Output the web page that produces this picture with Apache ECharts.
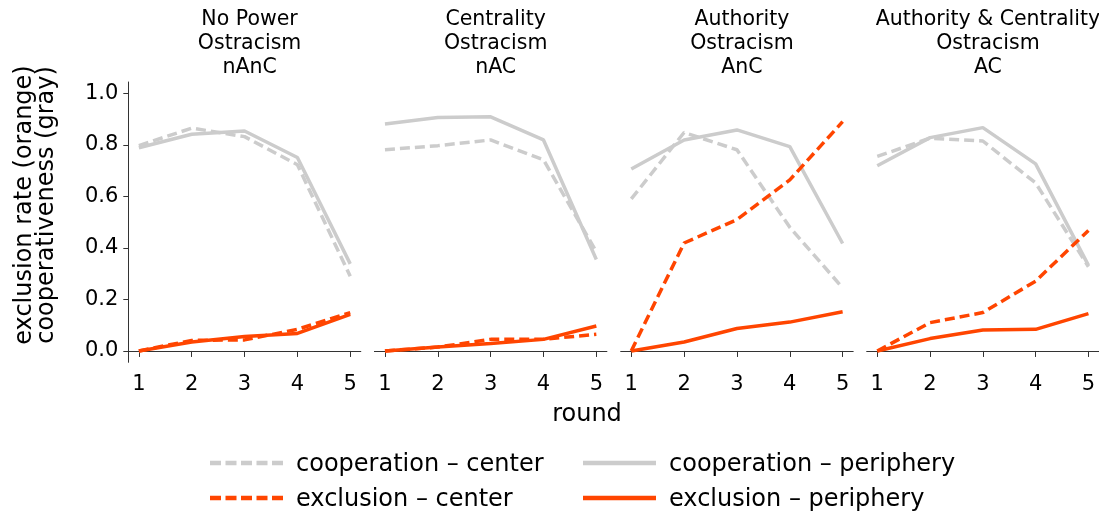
<!DOCTYPE html>
<html>
<head>
<meta charset="utf-8">
<script src="https://cdn.jsdelivr.net/npm/echarts@6/dist/echarts.min.js"></script>
<style>
html,body{margin:0;padding:0;background:#fff;}
#chart{width:1099px;height:518px;}
</style>
</head>
<body>
<div id="chart"></div>
<script>
// ---- data ----
const rounds = [1, 2, 3, 4, 5];
const yTicks = [0, 0.2, 0.4, 0.6, 0.8, 1.0];
const panelTitles = [
  'No Power\nOstracism\nnAnC',
  'Centrality\nOstracism\nnAC',
  'Authority\nOstracism\nAnC',
  'Authority & Centrality\nOstracism\nAC'
];
const seriesNames = ['cooperation – center', 'cooperation – periphery', 'exclusion – center', 'exclusion – periphery'];

// panel nAnC
const coopCenterNAnC   = [0.797, 0.865, 0.832, 0.723, 0.290];
const coopPeriphNAnC   = [0.789, 0.841, 0.854, 0.751, 0.338];
const exclCenterNAnC   = [0.000, 0.041, 0.043, 0.084, 0.149];
const exclPeriphNAnC   = [0.000, 0.035, 0.056, 0.068, 0.142];
// panel nAC
const coopCenterNAC    = [0.781, 0.797, 0.819, 0.742, 0.385];
const coopPeriphNAC    = [0.881, 0.906, 0.909, 0.819, 0.355];
const exclCenterNAC    = [0.000, 0.015, 0.045, 0.045, 0.065];
const exclPeriphNAC    = [0.000, 0.015, 0.029, 0.045, 0.097];
// panel AnC
const coopCenterAnC    = [0.590, 0.848, 0.781, 0.480, 0.245];
const coopPeriphAnC    = [0.706, 0.819, 0.858, 0.793, 0.417];
const exclCenterAnC    = [0.000, 0.419, 0.510, 0.664, 0.890];
const exclPeriphAnC    = [0.000, 0.035, 0.087, 0.112, 0.152];
// panel AC
const coopCenterAC     = [0.755, 0.826, 0.815, 0.652, 0.327];
const coopPeriphAC     = [0.719, 0.828, 0.867, 0.726, 0.332];
const exclCenterAC     = [0.000, 0.110, 0.149, 0.271, 0.468];
const exclPeriphAC     = [0.000, 0.048, 0.081, 0.084, 0.145];

const panelData = [
  [coopCenterNAnC, coopPeriphNAnC, exclCenterNAnC, exclPeriphNAnC],
  [coopCenterNAC,  coopPeriphNAC,  exclCenterNAC,  exclPeriphNAC],
  [coopCenterAnC,  coopPeriphAnC,  exclCenterAnC,  exclPeriphAnC],
  [coopCenterAC,   coopPeriphAC,   exclCenterAC,   exclPeriphAC]
];

// ---- styling ----
const FONT = 'DejaVu Sans';
const GRAY = '#cccccc';
const ORANGE = '#ff4500';
const DASH = [10, 5];
const lineStyles = [
  {color: GRAY, width: 3.5, type: DASH},
  {color: GRAY, width: 3.5, type: 'solid'},
  {color: ORANGE, width: 3.5, type: DASH},
  {color: ORANGE, width: 3.5, type: 'solid'}
];
const gridLefts = [128.3, 374.4, 620.7, 866.7];
const gridW = 232.5, gridTop = 82, gridH = 280.3;
const AX = '#333333';

const grids = [], xAxes = [], yAxes = [], series = [], titles = [];
gridLefts.forEach((l, i) => {
  grids.push({left: l, top: gridTop, width: gridW, height: gridH, containLabel: false});
  xAxes.push({
    type: 'value', gridIndex: i, min: 0.8, max: 5.2,
    axisLine: {show: true, lineStyle: {color: AX, width: 1}},
    axisTick: {show: true, length: 6, customValues: rounds, lineStyle: {color: AX, width: 1}},
    axisLabel: {show: true, customValues: rounds, margin: 12, color: '#000', fontFamily: FONT, fontSize: 21},
    splitLine: {show: false}
  });
  yAxes.push({
    type: 'value', gridIndex: i, min: -0.044, max: 1.044,
    axisLine: {show: i === 0, onZero: false, lineStyle: {color: AX, width: 1}},
    axisTick: {show: i === 0, length: 5, customValues: yTicks, lineStyle: {color: AX, width: 1}},
    axisLabel: {show: i === 0, customValues: yTicks, margin: 10, color: '#000', fontFamily: FONT, fontSize: 21,
      formatter: v => v.toFixed(1)},
    splitLine: {show: false}
  });
  titles.push({
    text: panelTitles[i], left: l + gridW / 2, top: 3, textAlign: 'center',
    textStyle: {fontFamily: FONT, fontSize: 20.5, fontWeight: 'normal', color: '#000', lineHeight: 24}
  });
  panelData[i].forEach((vals, k) => {
    series.push({
      name: seriesNames[k], type: 'line', xAxisIndex: i, yAxisIndex: i,
      data: rounds.map((r, j) => [r, vals[j]]),
      symbol: 'none', lineStyle: lineStyles[k], itemStyle: {color: lineStyles[k].color},
      z: k < 2 ? 2 : 3, animation: false, silent: true
    });
  });
});

// ---- legend (drawn as graphic keys) ----
const legendPos = [
  {x: 210, y: 463}, {x: 583, y: 463},   // cooperation center / periphery
  {x: 210, y: 498}, {x: 583, y: 498}    // exclusion center / periphery
];
const legendGraphics = [];
seriesNames.forEach((name, k) => {
  const p = legendPos[k];
  const ls = lineStyles[k];
  legendGraphics.push({
    type: 'line', silent: true,
    shape: {x1: p.x, y1: p.y, x2: p.x + 73, y2: p.y},
    style: {stroke: ls.color, lineWidth: 4.5, lineDash: ls.type === 'solid' ? null : [11, 4.5]}
  });
  legendGraphics.push({
    type: 'text', silent: true, x: p.x + 86, y: p.y + 2,
    style: {text: name, font: '24px "DejaVu Sans"', fill: '#000', textAlign: 'left', textVerticalAlign: 'middle'}
  });
});

const option = {
  animation: false,
  title: titles,
  grid: grids,
  xAxis: xAxes,
  yAxis: yAxes,
  series: series,
  graphic: [
    {type: 'text', x: 587, y: 415, style: {text: 'round', font: '24px "DejaVu Sans"', fill: '#000',
      textAlign: 'center', textVerticalAlign: 'middle'}},
    {type: 'text', x: 36, y: 205, rotation: Math.PI / 2,
     style: {text: 'exclusion rate (orange)\ncooperativeness (gray)', font: '24px "DejaVu Sans"', fill: '#000',
      textAlign: 'center', textVerticalAlign: 'middle', lineHeight: 22}}
  ].concat(legendGraphics)
};
const chart = echarts.init(document.getElementById('chart'), null, {renderer: 'canvas'});
chart.setOption(option);
</script>
</body>
</html>
